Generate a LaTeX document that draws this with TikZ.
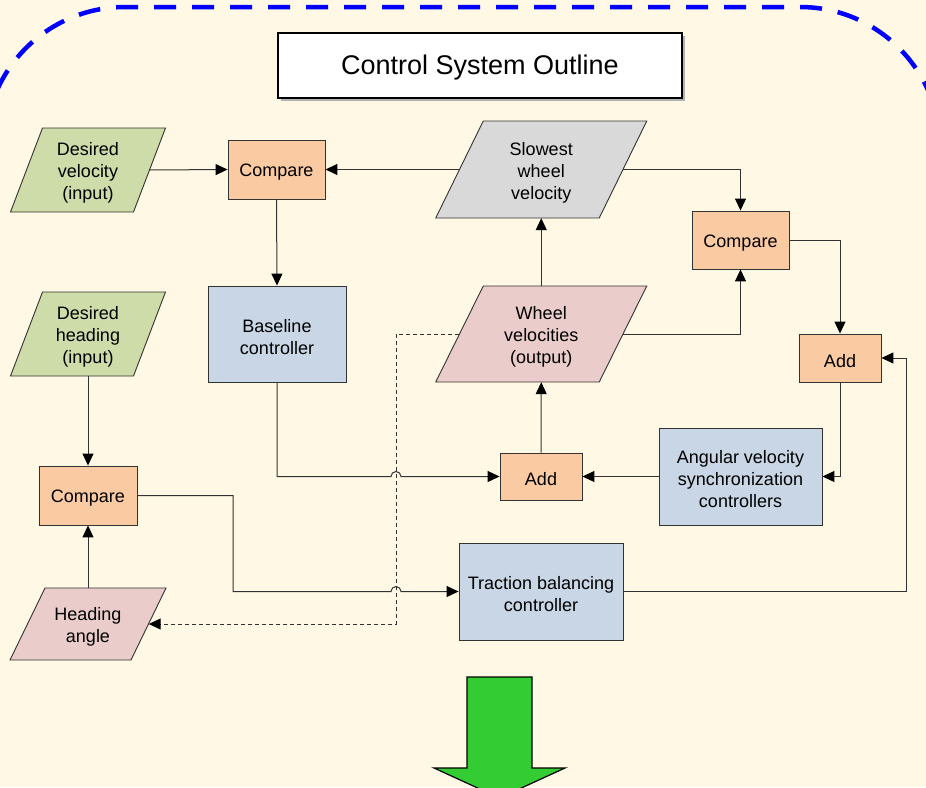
\documentclass[tikz,border=0pt]{standalone}
\usepackage{fontspec}
\setmainfont{Liberation Sans}
\usetikzlibrary{arrows.meta,calc}
\definecolor{bgc}{RGB}{254,248,229}
\definecolor{greenc}{RGB}{205,220,169}
\definecolor{orangec}{RGB}{250,202,163}
\definecolor{grayc}{RGB}{217,217,217}
\definecolor{pinkc}{RGB}{234,204,203}
\definecolor{bluec}{RGB}{200,214,229}
\definecolor{linec}{RGB}{50,50,50}
\definecolor{bigarrow}{RGB}{51,204,51}
\definecolor{borderblue}{RGB}{0,0,255}
\tikzset{
  txt/.style={font=\fontsize{18}{22}\selectfont, align=center, inner sep=0pt},
  shapebox/.style={draw=black!80, line width=0.9pt, inner sep=0pt},
  parashape/.style={draw=black!80, line width=0.9pt},
  conn/.style={draw=linec, line width=1pt, -{Triangle[length=12pt,width=11pt,color=black]}},
  dconn/.style={conn, dash pattern=on 4pt off 3pt},
}
% #1 name, #2 x, #3 y, #4 w, #5 h, #6 slant, #7 fill, #8 text
\newcommand\paranode[8]{%
  \filldraw[parashape, fill=#7]
    ($(#2,#3)+({-#4/2-#6/2},{#5/2})$) -- ($(#2,#3)+({#4/2-#6/2},{#5/2})$) --
    ($(#2,#3)+({#4/2+#6/2},{-#5/2})$) -- ($(#2,#3)+({-#4/2+#6/2},{-#5/2})$) -- cycle;
  \node[inner sep=0pt, minimum width=#4, minimum height=#5] (#1) at (#2,#3) {};
  \node[txt] (#1-t) at ([yshift=-3pt]#1.center) {#8};
}
% #1 name, #2 x, #3 y, #4 w, #5 h, #6 fill, #7 text
\newcommand\rectnode[7]{%
  \node[shapebox, fill=#6, minimum width=#4, minimum height=#5] (#1) at (#2,#3) {};
  \node[txt] (#1-t) at ([yshift=-3pt]#1.center) {#7};
}
\begin{document}
\begin{tikzpicture}[x=1pt,y=-1pt]
\useasboundingbox (0,0) rectangle (926,787);
\clip (0,0) rectangle (926,787);
\fill[bgc] (0,0) rectangle (926,787);
% dashed border
\draw[borderblue, line width=4.5pt, dash pattern=on 22pt off 16pt, rounded corners=140pt]
  (-15,1000) -- (-15,7) -- (940,7) -- (940,1000);
% title
\fill[black!30] (281,36) rectangle (685,101);
\node[draw=black, line width=1.2pt, fill=white, minimum width=404, minimum height=65, inner sep=0pt] (title) at (480,65.5) {};
\node[font=\fontsize{27}{30}\selectfont, inner sep=0pt] (title-t) at ([yshift=-2.5pt]title.center) {Control System Outline};
% parallelograms
\paranode{dv}{88}{170}{123}{84}{32}{greenc}{Desired\\velocity\\(input)}
\paranode{dh}{88}{334}{123}{84}{32}{greenc}{Desired\\heading\\(input)}
\paranode{ha}{88}{624}{121}{72}{35}{pinkc}{Heading\\angle}
\paranode{sw}{541.25}{169.5}{163.5}{97}{47.5}{grayc}{Slowest\\wheel\\velocity}
\paranode{wv}{541.25}{334}{163.5}{96}{47.5}{pinkc}{Wheel\\velocities\\(output)}
% boxes
\rectnode{ct}{276.5}{169.5}{97}{59}{orangec}{Compare}
\rectnode{cr}{740.5}{240}{97}{58}{orangec}{Compare}
\rectnode{bl}{277}{334}{138}{96}{bluec}{Baseline\\controller}
\rectnode{ar}{840}{358}{82}{48}{orangec}{Add}
\rectnode{cl}{88}{495.5}{98}{59}{orangec}{Compare}
\rectnode{am}{541}{476.5}{82}{47}{orangec}{Add}
\rectnode{av}{740.5}{476.5}{163}{97}{bluec}{Angular velocity\\synchronization\\controllers}
\rectnode{tb}{541}{591.5}{164}{97}{bluec}{Traction balancing\\controller}
\coordinate (hopx) at (396,0);
\coordinate (clturn) at (233,0);
\coordinate (tbturn) at (906,0);
% connectors
\draw[conn] (dv.east) -- (ct.west);
\draw[conn] (sw.west) -- (ct.east);
\draw[conn] (sw.east) -| (cr.north);
\draw[conn] (ct.south) -- (bl.north);
\draw[conn] (wv.north) -- (sw.south);
\draw[conn] (wv.east) -| (cr.south);
\draw[conn] (cr.east) -| (ar.north);
\draw[conn] (ar.south) |- (av.east);
\draw[conn] (av.west) -- (am.east);
\draw[conn] (am.north) -- (wv.south);
\draw[conn] (dh.south) -- (cl.north);
\draw[conn] (ha.north) -- (cl.south);
\draw[dconn] (wv.west) -| (hopx |- ha.east) -- (ha.east);
\draw[conn] (bl.south) |- ($(hopx |- am.west)+(-5,0)$) arc[start angle=180, end angle=360, radius=5] -- (am.west);
\draw[conn] (cl.east) -- (clturn |- cl.east) |- ($(hopx |- tb.west)+(-5,0)$) arc[start angle=180, end angle=360, radius=5] -- (tb.west);
\draw[conn] (tb.east) -| (tbturn |- ar.east) -- (ar.east);
% big green arrow
\filldraw[fill=bigarrow, draw=black, line width=1.2pt]
  (467,677) -- (532,677) -- (532,768) -- (565,768) -- (499.5,798) -- (434,768) -- (467,768) -- cycle;
\end{tikzpicture}
\end{document}
